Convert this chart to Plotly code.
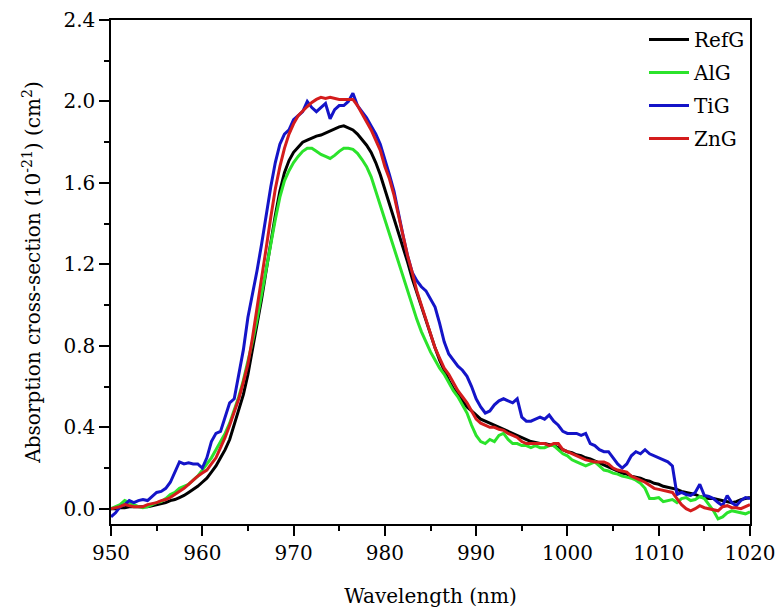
import numpy as np
import plotly.graph_objects as go

wavelength = [950 + 0.5 * i for i in range(141)]

refg = [0.00, 0.00, 0.005, 0.005, 0.01, 0.01, 0.01, 0.01, 0.01, 0.015,
        0.02, 0.025, 0.03, 0.04, 0.045, 0.055, 0.065, 0.08, 0.095, 0.11,
        0.13, 0.15, 0.18, 0.21, 0.25, 0.29, 0.34, 0.41, 0.48, 0.56,
        0.66, 0.78, 0.90, 1.03, 1.17, 1.31, 1.44, 1.56, 1.65, 1.71,
        1.75, 1.775, 1.80, 1.81, 1.82, 1.83, 1.835, 1.845, 1.855, 1.865,
        1.875, 1.88, 1.87, 1.86, 1.84, 1.815, 1.785, 1.75, 1.70, 1.64,
        1.57, 1.49, 1.42, 1.35, 1.28, 1.21, 1.13, 1.06, 0.99, 0.92,
        0.85, 0.79, 0.73, 0.68, 0.63, 0.59, 0.56, 0.53, 0.50, 0.48,
        0.46, 0.44, 0.43, 0.42, 0.41, 0.40, 0.39, 0.38, 0.37, 0.36,
        0.35, 0.34, 0.33, 0.325, 0.32, 0.32, 0.315, 0.31, 0.30, 0.29,
        0.28, 0.275, 0.265, 0.26, 0.25, 0.245, 0.235, 0.225, 0.215, 0.205,
        0.195, 0.185, 0.175, 0.17, 0.16, 0.155, 0.15, 0.14, 0.135, 0.125,
        0.12, 0.11, 0.105, 0.10, 0.095, 0.085, 0.08, 0.075, 0.07, 0.06,
        0.055, 0.05, 0.05, 0.045, 0.04, 0.035, 0.03, 0.035, 0.045, 0.05,
        0.055]

alg = [0.00, 0.01, 0.02, 0.04, 0.03, 0.02, 0.01, 0.005, 0.01, 0.02,
       0.03, 0.035, 0.05, 0.07, 0.08, 0.10, 0.11, 0.12, 0.14, 0.16,
       0.19, 0.22, 0.25, 0.29, 0.33, 0.37, 0.42, 0.48, 0.55, 0.63,
       0.72, 0.82, 0.93, 1.05, 1.18, 1.31, 1.42, 1.53, 1.61, 1.66,
       1.70, 1.73, 1.755, 1.77, 1.77, 1.755, 1.74, 1.73, 1.72, 1.735,
       1.755, 1.77, 1.77, 1.765, 1.745, 1.715, 1.68, 1.63, 1.56, 1.48,
       1.41, 1.34, 1.27, 1.20, 1.14, 1.07, 1.00, 0.93, 0.87, 0.82,
       0.77, 0.73, 0.69, 0.66, 0.62, 0.58, 0.55, 0.51, 0.47, 0.41,
       0.36, 0.33, 0.32, 0.34, 0.33, 0.36, 0.37, 0.34, 0.32, 0.32,
       0.31, 0.31, 0.30, 0.31, 0.30, 0.30, 0.31, 0.31, 0.29, 0.27,
       0.26, 0.24, 0.23, 0.22, 0.21, 0.22, 0.23, 0.21, 0.19, 0.185,
       0.175, 0.17, 0.16, 0.155, 0.15, 0.14, 0.125, 0.10, 0.05, 0.05,
       0.055, 0.035, 0.04, 0.045, 0.03, 0.05, 0.055, 0.04, 0.045, 0.06,
       0.05, 0.02, -0.01, -0.05, -0.04, -0.02, -0.01, -0.015, -0.02, -0.025,
       -0.015]

tig = [-0.04, -0.02, 0.01, 0.02, 0.04, 0.03, 0.04, 0.045, 0.04, 0.06,
       0.08, 0.085, 0.10, 0.13, 0.18, 0.23, 0.22, 0.225, 0.22, 0.22,
       0.20, 0.25, 0.33, 0.37, 0.38, 0.45, 0.52, 0.54, 0.66, 0.78,
       0.94, 1.05, 1.17, 1.30, 1.45, 1.58, 1.70, 1.79, 1.84, 1.86,
       1.91, 1.93, 1.95, 2.00, 1.97, 1.95, 1.97, 1.99, 1.915, 1.96,
       1.98, 1.98, 2.00, 2.04, 1.98, 1.95, 1.92, 1.88, 1.84, 1.79,
       1.72, 1.64, 1.56, 1.44, 1.34, 1.24, 1.16, 1.12, 1.09, 1.07,
       1.03, 0.99, 0.91, 0.82, 0.76, 0.73, 0.70, 0.68, 0.65, 0.60,
       0.54, 0.50, 0.47, 0.48, 0.51, 0.53, 0.54, 0.53, 0.52, 0.54,
       0.45, 0.43, 0.43, 0.44, 0.45, 0.44, 0.46, 0.43, 0.41, 0.38,
       0.37, 0.37, 0.37, 0.36, 0.37, 0.32, 0.31, 0.29, 0.28, 0.28,
       0.25, 0.22, 0.20, 0.22, 0.26, 0.28, 0.27, 0.29, 0.27, 0.26,
       0.25, 0.24, 0.23, 0.21, 0.07, 0.08, 0.07, 0.065, 0.08, 0.12,
       0.065, 0.06, 0.05, 0.03, 0.015, 0.065, 0.03, 0.015, 0.04, 0.055,
       0.05]

zng = [0.00, 0.005, 0.01, 0.02, 0.015, 0.01, 0.01, 0.01, 0.02, 0.025,
       0.03, 0.04, 0.045, 0.055, 0.07, 0.085, 0.10, 0.12, 0.14, 0.16,
       0.175, 0.19, 0.22, 0.25, 0.30, 0.35, 0.41, 0.47, 0.54, 0.62,
       0.71, 0.84, 0.98, 1.12, 1.28, 1.43, 1.57, 1.68, 1.77, 1.84,
       1.89, 1.93, 1.955, 1.975, 1.995, 2.01, 2.02, 2.015, 2.02, 2.015,
       2.01, 2.01, 2.01, 2.01, 1.98, 1.94, 1.90, 1.86, 1.81, 1.76,
       1.68, 1.62, 1.54, 1.44, 1.35, 1.24, 1.16, 1.07, 1.00, 0.93,
       0.86, 0.79, 0.74, 0.69, 0.66, 0.62, 0.58, 0.55, 0.52, 0.48,
       0.44, 0.42, 0.41, 0.40, 0.40, 0.39, 0.385, 0.37, 0.36, 0.35,
       0.33, 0.32, 0.32, 0.32, 0.32, 0.32, 0.31, 0.32, 0.32, 0.29,
       0.28, 0.27, 0.26, 0.25, 0.24, 0.235, 0.23, 0.23, 0.23, 0.22,
       0.20, 0.19, 0.185, 0.18, 0.16, 0.15, 0.14, 0.13, 0.115, 0.10,
       0.095, 0.09, 0.087, 0.08, 0.05, 0.02, 0.00, -0.01, 0.00, 0.015,
       0.005, 0.00, -0.005, -0.01, 0.01, 0.015, 0.005, 0.005, 0.00, 0.01,
       0.02]

series_names = ["RefG", "AlG", "TiG", "ZnG"]
series_values = [refg, alg, tig, zng]
series_colors = ["#000000", "#2BE32B", "#1414C8", "#D41C1C"]

x_ticks = [950, 960, 970, 980, 990, 1000, 1010, 1020]
y_ticks = [0.0, 0.4, 0.8, 1.2, 1.6, 2.0, 2.4]
y_tick_labels = ["0.0", "0.4", "0.8", "1.2", "1.6", "2.0", "2.4"]

FONT = "DejaVu Serif"

fig = go.Figure()
for name, vals, col in zip(series_names, series_values, series_colors):
    fig.add_trace(go.Scatter(x=wavelength, y=vals, mode="lines", name=name,
                             legendgroup=name,
                             line=dict(color=col, width=3)))

axis_common = dict(
    showline=True, linecolor="black", linewidth=1.5, mirror=True,
    ticks="outside", ticklen=10, tickwidth=1.5, tickcolor="black",
    showgrid=False, zeroline=False, automargin=False,
    ticklabeloverflow="allow",
    tickfont=dict(family=FONT, size=20, color="black"),
)

fig.update_xaxes(
    range=[950, 1020], tickvals=x_ticks,
    minor=dict(dtick=5, ticks="outside", ticklen=5, tickwidth=1.5, tickcolor="black"),
    title=dict(text="Wavelength (nm)", font=dict(family=FONT, size=20, color="black"), standoff=25),
    **axis_common)
fig.update_yaxes(
    range=[-0.075, 2.4], tickvals=y_ticks, ticktext=y_tick_labels,
    minor=dict(tick0=0, dtick=0.2, ticks="outside", ticklen=5, tickwidth=1.5, tickcolor="black"),
    title=dict(text="Absorption cross-section (10<sup>-21</sup>) (cm<sup>2</sup>)",
               font=dict(family=FONT, size=20, color="black"), standoff=17),
    **axis_common)

fig.update_layout(
    width=776, height=612,
    margin=dict(l=111, r=26, t=20, b=88),
    paper_bgcolor="white", plot_bgcolor="white",
    font=dict(family=FONT, size=20, color="black"),
    legend=dict(x=1, xanchor="right", y=1, yanchor="top",
                bgcolor="rgba(0,0,0,0)", font=dict(family=FONT, size=20),
                tracegroupgap=4, itemwidth=40),
    showlegend=True,
)

fig.write_html("out.html", config={"displayModeBar": False},
               post_script="document.body.style.margin='0';")
